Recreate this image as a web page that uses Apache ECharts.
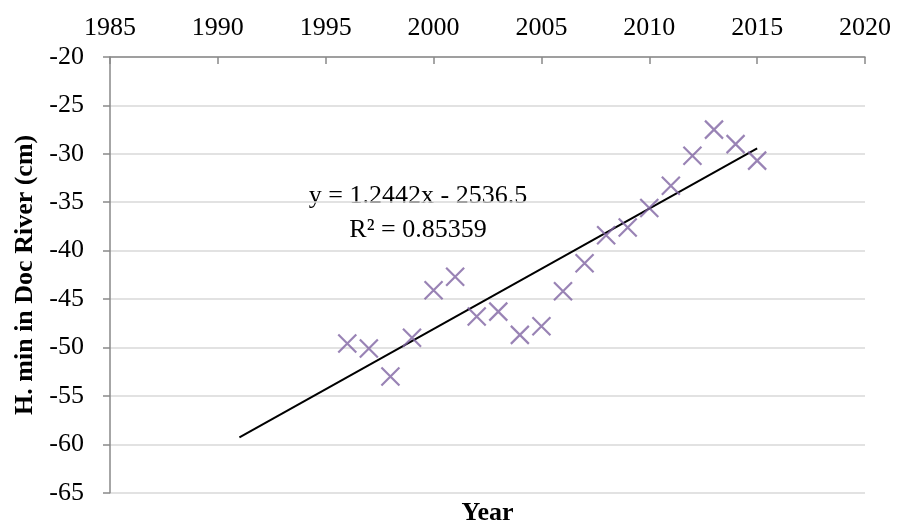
<!DOCTYPE html>
<html>
<head>
<meta charset="utf-8">
<script src="https://cdn.jsdelivr.net/npm/echarts@6/dist/echarts.min.js"></script>
<style>
  html, body { margin: 0; padding: 0; background: #fff; }
  #chart { width: 899px; height: 527px; }
</style>
</head>
<body>
<div id="chart"></div>
<script>
// Annual minimum water level in Doc River
const years = [1996, 1997, 1998, 1999, 2000, 2001, 2002, 2003, 2004, 2005,
               2006, 2007, 2008, 2009, 2010, 2011, 2012, 2013, 2014, 2015];
const hMin = [-49.6, -50.1, -53.0, -49.0, -44.1, -42.7, -46.8, -46.3, -48.7, -47.8,
              -44.2, -41.3, -38.4, -37.6, -35.6, -33.3, -30.2, -27.5, -29.0, -30.7];

// Linear trendline as reported: y = 1.2442x - 2536.5
const trendSlope = 1.2442;
const trendIntercept = -2536.5;
const trendYears = [1991, 2015];
const trendLabel = ['y = 1.2442x - 2536.5', 'R\u00B2 = 0.85359'];

const xTicks = { min: 1985, max: 2020, interval: 5 };
const yTicks = { min: -65, max: -20, interval: 5 };

const FONT = '"Liberation Serif", "DejaVu Serif", serif';

const points = years.map((y, i) => [y, hMin[i]]);
const trend = trendYears.map(x => [x, trendSlope * x + trendIntercept]);

const chart = echarts.init(document.getElementById('chart'), null, { renderer: 'canvas' });

const grid = { left: 110, right: 34, top: 57, bottom: 34.3 };

chart.setOption({
  animation: false,
  backgroundColor: '#ffffff',
  grid: Object.assign({ outerBoundsMode: 'none', containLabel: false }, grid),
  xAxis: [{
    type: 'value',
    position: 'top',
    min: xTicks.min, max: xTicks.max, interval: xTicks.interval,
    axisLine: { show: true, onZero: false, lineStyle: { color: '#898989', width: 1.5 } },
    axisTick: { show: true, inside: true, length: 7, lineStyle: { color: '#898989', width: 1.5 } },
    axisLabel: { margin: 16, color: '#000', fontFamily: FONT, fontSize: 26,
                 formatter: v => String(v) },
    splitLine: { show: false }
  }, {
    type: 'value',
    position: 'bottom',
    min: xTicks.min, max: xTicks.max,
    axisLine: { show: false }, axisTick: { show: false }, axisLabel: { show: false },
    splitLine: { show: false },
    name: 'Year', nameLocation: 'middle', nameGap: 8,
    nameTextStyle: { color: '#000', fontFamily: FONT, fontSize: 26, fontWeight: 'bold',
                     verticalAlign: 'top' }
  }],
  yAxis: {
    type: 'value',
    min: yTicks.min, max: yTicks.max, interval: yTicks.interval,
    name: 'H. min in Doc River (cm)', nameLocation: 'middle', nameGap: 72, nameRotate: 90,
    nameTextStyle: { color: '#000', fontFamily: FONT, fontSize: 26, fontWeight: 'bold' },
    axisLine: { show: true, onZero: false, lineStyle: { color: '#898989', width: 1.5 } },
    axisTick: { show: true, length: 7, lineStyle: { color: '#898989', width: 1.5 } },
    axisLabel: { margin: 26, color: '#000', fontFamily: FONT, fontSize: 26 },
    splitLine: { show: true, lineStyle: { color: '#d9d9d9', width: 1.5 } }
  },
  series: [{
    type: 'line',
    data: trend,
    symbol: 'none',
    lineStyle: { color: '#000', width: 2 },
    z: 2,
    silent: true
  }, {
    type: 'scatter',
    data: points,
    symbol: 'path://M0,0L10,10M10,0L0,10',
    symbolSize: 18,
    itemStyle: { color: 'rgba(0,0,0,0)', borderColor: '#8064a2', borderWidth: 2.2 },
    z: 3
  }],
  graphic: trendLabel.map((t, i) => ({
    type: 'text',
    x: 418, y: 196 + i * 34,
    style: {
      text: t,
      align: 'center',
      verticalAlign: 'middle',
      fill: '#000',
      font: '26px ' + FONT
    }
  }))
});
</script>
</body>
</html>
